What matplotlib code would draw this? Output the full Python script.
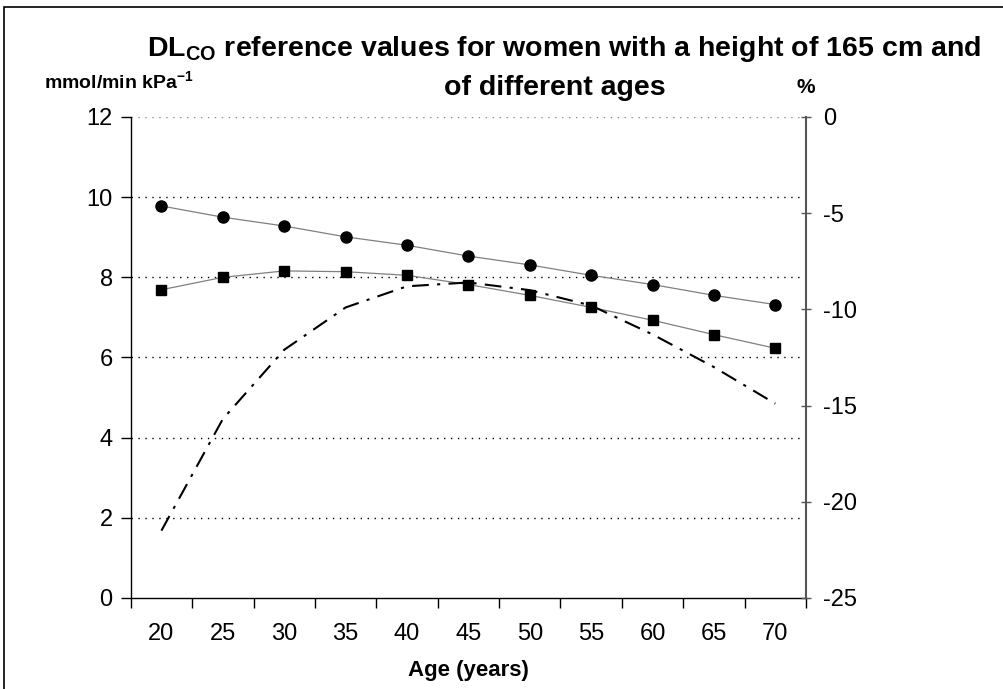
import matplotlib
matplotlib.use("Agg")
import matplotlib.pyplot as plt
from matplotlib.patches import Rectangle

plt.rcParams['font.family'] = ['Liberation Sans', 'DejaVu Sans']
plt.rcParams['mathtext.fontset'] = 'custom'
plt.rcParams['mathtext.rm'] = 'Liberation Sans'
plt.rcParams['mathtext.bf'] = 'Liberation Sans:bold'

# data
ages = [20, 25, 30, 35, 40, 45, 50, 55, 60, 65, 70]
dlco_circles = [9.78, 9.50, 9.28, 9.01, 8.80, 8.53, 8.31, 8.05, 7.82, 7.55, 7.32]
dlco_squares = [7.69, 8.00, 8.16, 8.14, 8.05, 7.82, 7.55, 7.25, 6.93, 6.57, 6.23]
pct_change = [-21.5, -15.7, -12.1, -9.9, -8.8, -8.6, -9.0, -9.8, -11.3, -13.0, -14.9]

left_ticks = [0, 2, 4, 6, 8, 10, 12]
right_ticks = [-25, -20, -15, -10, -5, 0]

fig = plt.figure(figsize=(10.04, 6.89), dpi=100)
ax = fig.add_axes([0.1302, 0.1321, 0.6726, 0.6981])
ax2 = ax.twinx()

x = list(range(len(ages)))

# gridlines
for v in left_ticks[1:]:
    col = '#888888' if v == 12 else 'black'
    ax.axhline(v, color=col, linestyle=(0, (1, 4)), linewidth=1.0, zorder=0)

ax.plot(x, dlco_circles, color='#808080', linewidth=0.9, marker='o',
        markersize=8, markerfacecolor='black', markeredgecolor='black', zorder=3)
ax.plot(x, dlco_squares, color='#808080', linewidth=0.9, marker='s',
        markersize=7, markerfacecolor='black', markeredgecolor='black', zorder=3)
ax2.plot(x, pct_change, color='black', linewidth=1.5,
         linestyle=(0, (8, 4, 1.5, 4)), zorder=2)

ax.set_xlim(-0.5, len(ages) - 0.5)
ax.set_ylim(0, 12)
ax2.set_ylim(-25, 0)

ax.set_yticks(left_ticks)
ax.set_yticklabels([str(v) for v in left_ticks], fontsize=17)
ax2.set_yticks(right_ticks)
ax2.set_yticklabels([str(v) for v in right_ticks], fontsize=17)

ax.set_xticks([i - 0.5 for i in range(len(ages) + 1)])
ax.set_xticklabels([])
ax.set_xticks(x, minor=True)
ax.set_xticklabels([str(a) for a in ages], minor=True, fontsize=17)
ax.tick_params(axis='x', which='major', length=7, direction='out', width=1)
ax.tick_params(axis='x', which='minor', length=0, pad=18)
ax.tick_params(axis='y', length=7, direction='out', width=1, pad=6)
ax2.tick_params(axis='y', length=7, direction='inout', width=1, color='#555555', pad=9)

ax.spines['top'].set_visible(False)
ax2.spines['top'].set_visible(False)
ax2.spines['left'].set_visible(False)
ax2.spines['bottom'].set_visible(False)
ax.spines['right'].set_visible(False)
ax2.spines['right'].set_color('#555555')
ax2.spines['right'].set_linewidth(1.5)
ax.spines['left'].set_linewidth(1.0)
ax.spines['bottom'].set_linewidth(1.0)

ax.set_xlabel('Age (years)', fontsize=16, fontweight='bold', labelpad=11)

fig.text(0.562, 0.929, r'$\mathbf{DL}_{\mathbf{CO}}$ reference values for women with a height of 165 cm and',
         ha='center', va='center', fontsize=20.5, fontweight='bold')
fig.text(0.553, 0.873, 'of different ages', ha='center', va='center',
         fontsize=20.5, fontweight='bold')
fig.text(0.118, 0.882, r'mmol/min kPa$^{\mathbf{-1}}$', ha='center', va='center',
         fontsize=14, fontweight='bold')
fig.text(0.803, 0.873, '%', ha='center', va='center', fontsize=15, fontweight='bold')

# outer frame
fig.patches.append(Rectangle((4 / 1004, -0.1), 1.2, 1.1 - 7 / 689, transform=fig.transFigure,
                             fill=False, edgecolor='black', linewidth=1.2))

fig.savefig('out.png', dpi=100)
